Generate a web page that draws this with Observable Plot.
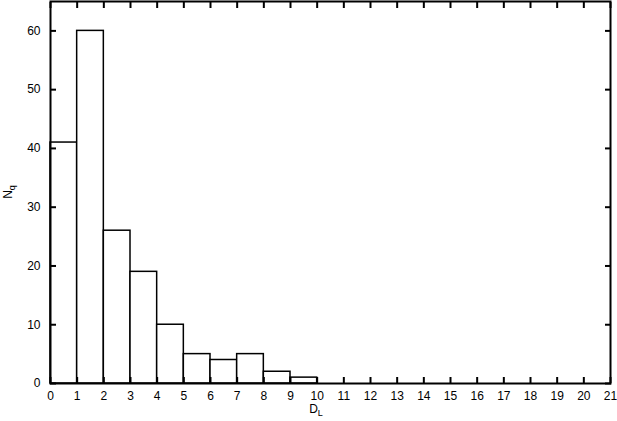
<!DOCTYPE html>
<html>
<head>
<meta charset="utf-8">
<script src="https://cdn.jsdelivr.net/npm/d3@7"></script>
<script src="https://cdn.jsdelivr.net/npm/@observablehq/plot@0.6"></script>
<style>
  html, body { margin: 0; padding: 0; background: #fff; }
  svg { font-family: "Liberation Sans", Arial, sans-serif; }
</style>
</head>
<body>
<div id="chart"></div>
<script>
const binStart = [0, 1, 2, 3, 4, 5, 6, 7, 8, 9];
const binEnd   = [1, 2, 3, 4, 5, 6, 7, 8, 9, 10];
const counts   = [41, 60, 26, 19, 10, 5, 4, 5, 2, 1];
const xTicks = d3.range(0, 22);
const yTicks = [0, 10, 20, 30, 40, 50, 60];

const bins = binStart.map((s, i) => ({x1: s, x2: binEnd[i], y: counts[i]}));

const W = 617, H = 421;
const chart = Plot.plot({
  width: W,
  height: H,
  marginLeft: 50,
  marginRight: 7,
  marginTop: 1,
  marginBottom: 38,
  style: {fontFamily: "Liberation Sans, Arial, sans-serif", fontSize: "12px", background: "#fff", color: "#000"},
  x: {domain: [0, 21]},
  y: {domain: [0, 65]},
  marks: [
    Plot.rectY(bins, {x1: "x1", x2: "x2", y: "y", fill: "white", stroke: "black", strokeWidth: 1.5}),
    Plot.axisX(xTicks, {anchor: "bottom", tickSize: -6, text: null, label: null, strokeWidth: 2}),
    Plot.axisX(xTicks, {anchor: "top", tickSize: -6, text: null, label: null, strokeWidth: 2}),
    Plot.axisX(xTicks, {anchor: "bottom", tickSize: 0, tickPadding: 8, label: null, fontSize: 12}),
    Plot.axisY(yTicks, {anchor: "left", tickSize: -6, text: null, label: null, strokeWidth: 2}),
    Plot.axisY(yTicks, {anchor: "right", tickSize: -6, text: null, label: null, strokeWidth: 2}),
    Plot.axisY(yTicks, {anchor: "left", tickSize: 0, tickPadding: 10, label: null, fontSize: 12}),
    Plot.frame({stroke: "black", strokeWidth: 2})
  ]
});
document.getElementById("chart").appendChild(chart);

// axis titles with subscripts
const svg = d3.select(chart);
const xl = svg.append("text")
  .attr("x", 316).attr("y", 413)
  .attr("text-anchor", "middle")
  .attr("font-size", 12)
  .attr("fill", "black");
xl.append("tspan").text("D");
xl.append("tspan").attr("dy", 3).attr("font-size", 9).text("L");

const yl = svg.append("text")
  .attr("transform", "translate(12,192) rotate(-90)")
  .attr("text-anchor", "middle")
  .attr("font-size", 12)
  .attr("fill", "black");
yl.append("tspan").text("N");
yl.append("tspan").attr("dy", 3).attr("font-size", 9).text("q");
</script>
</body>
</html>
